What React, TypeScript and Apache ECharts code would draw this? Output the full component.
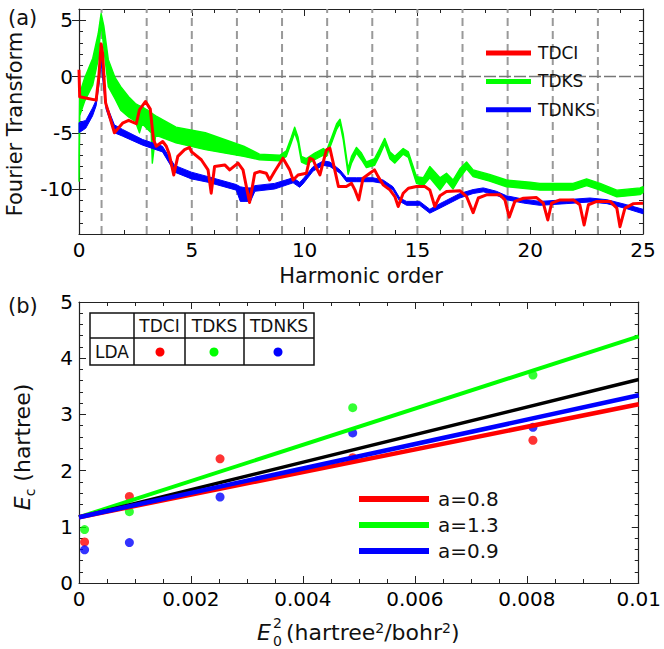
import React, { useEffect, useRef } from 'react';
import * as echarts from 'echarts';

const FONT = "'DejaVu Sans', sans-serif";
const RED = '#ff0000';
const GREEN = '#00ff00';
const BLUE = '#0000ff';

// ---------- Panel (a): spectra ----------
const HARMONIC_GUIDES = [1, 3, 5, 7, 9, 11, 13, 15, 17, 19, 21, 23];
const ZERO_LINE = [0];
const Y_MAJOR_A = [-10, -5, 0, 5];
const SPECTRUM_NAMES = ['TDCI', 'TDKS', 'TDNKS'];

// [harmonic, log amplitude]
const TDCI_SPECTRUM: number[][] = [
  [0, 0.6], [0.03, -1.8], [0.4, -1.95], [0.76, -2.1], [0.88, 0.0], [0.98, 2.9], [1.05, 2.0], [1.12, -0.5],
  [1.18, -2.35], [1.57, -5.0], [1.93, -4.15], [2.2, -3.9], [2.54, -4.2], [2.68, -2.96], [2.95, -2.22],
  [3.16, -2.9], [3.3, -5.6], [3.42, -6.2], [3.71, -5.78], [3.87, -6.2], [4.0, -6.9], [4.2, -8.75],
  [4.38, -7.1], [4.68, -6.5], [4.9, -6.3], [4.98, -6.67], [5.42, -7.4], [5.72, -8.3], [5.86, -10.37],
  [6.01, -8.0], [6.46, -7.86], [6.68, -8.3], [7.05, -7.7], [7.27, -8.3], [7.56, -11.2], [7.79, -8.6],
  [8.0, -8.45], [8.3, -8.6], [8.45, -9.2], [8.67, -8.45], [9.04, -7.26], [9.34, -8.3], [9.49, -9.2],
  [9.71, -8.75], [10.08, -8.6], [10.23, -7.26], [10.38, -7.4], [10.53, -8.15], [10.68, -8.75],
  [10.83, -7.56], [10.97, -6.52], [11.12, -6.37], [11.27, -7.7], [11.5, -9.78], [11.85, -9.78],
  [12.08, -9.5], [12.23, -10.08], [12.4, -10.97], [12.59, -9.04], [12.89, -8.6], [13.1, -8.3],
  [13.26, -8.9], [13.48, -9.63], [13.78, -10.08], [14.0, -10.67], [14.15, -11.56], [14.37, -10.38],
  [14.6, -9.93], [14.96, -9.78], [15.33, -9.78], [15.55, -10.08], [15.77, -11.56], [16.0, -10.6],
  [16.29, -10.23], [16.88, -10.15], [17.18, -10.67], [17.47, -12.1], [17.7, -10.8], [18.06, -10.52],
  [18.66, -10.52], [18.88, -10.97], [19.07, -12.5], [19.32, -11.1], [19.7, -10.82], [20.28, -10.76],
  [20.58, -11.26], [20.78, -12.75], [20.95, -11.26], [21.32, -10.97], [21.91, -10.97], [22.2, -11.4],
  [22.39, -13.2], [22.58, -11.4], [22.95, -11.1], [23.54, -11.1], [23.84, -11.7], [23.98, -13.35],
  [24.2, -11.7], [24.58, -11.3], [25.0, -11.26],
];

// [harmonic, lower edge, upper edge] of the noisy band
const TDKS_SPECTRUM: number[][] = [
  [0.0, -9.3, -7.0], [0.03, -3.5, -1.5], [0.25, -2.2, -0.14], [0.61, -0.74, 1.63], [0.85, 1.5, 3.8],
  [0.98, 4.8, 5.6], [1.1, 2.5, 4.5], [1.3, -0.9, 1.5], [1.6, -2.0, -0.1], [1.85, -3.0, -0.9],
  [2.2, -3.6, -1.8], [2.5, -4.0, -2.4], [2.68, -5.0, -2.6], [2.8, -4.2, -2.7], [3.2, -5.0, -3.2],
  [3.25, -7.7, -3.3], [3.4, -5.2, -3.5], [4.3, -5.9, -4.5], [5.6, -6.5, -5.0], [7.3, -7.1, -6.2],
  [8.0, -7.4, -6.9], [8.9, -7.5, -7.0], [9.19, -7.1, -6.6], [9.41, -5.9, -5.4], [9.56, -5.0, -4.5],
  [9.71, -5.9, -5.4], [9.86, -7.6, -7.1], [10.08, -7.8, -7.3], [10.45, -7.4, -6.8], [10.83, -7.0, -6.4],
  [10.97, -7.1, -6.6], [11.2, -5.9, -5.4], [11.42, -4.7, -4.2], [11.57, -4.2, -3.8], [11.71, -5.6, -5.1],
  [11.93, -8.7, -8.2], [12.08, -7.7, -7.1], [12.3, -6.8, -6.3], [12.52, -7.4, -6.8], [12.74, -8.1, -7.6],
  [13.1, -7.9, -7.3], [13.33, -7.0, -6.4], [13.55, -6.0, -5.5], [13.78, -7.3, -6.7], [14.0, -7.7, -7.1],
  [14.37, -6.9, -6.4], [14.6, -7.2, -6.7], [14.96, -9.5, -8.9], [15.26, -9.7, -9.0], [15.55, -9.0, -8.0],
  [16.0, -10.1, -9.0], [16.29, -9.3, -8.6], [16.58, -10.0, -9.2], [16.88, -9.0, -8.2], [17.18, -8.2, -7.6],
  [17.47, -8.9, -8.3], [18.2, -9.3, -8.7], [18.95, -9.8, -9.2], [20.0, -10.0, -9.4], [20.43, -10.1, -9.5],
  [21.46, -10.1, -9.5], [21.9, -10.1, -9.5], [22.5, -9.7, -9.1], [23.1, -10.1, -9.5], [23.84, -10.7, -10.1],
  [24.87, -10.5, -9.9], [25.0, -10.3, -9.8],
];

const TDNKS_SPECTRUM: number[][] = [
  [0.0, -5.0, -4.1], [0.3, -4.6, -3.9], [0.6, -3.5, -2.8], [0.76, -2.6, -2.1], [0.9, -0.5, 0.3],
  [0.98, 1.3, 1.8], [1.08, -0.8, 0.0], [1.2, -2.9, -2.4], [1.57, -5.0, -4.3], [1.93, -5.3, -4.7],
  [2.82, -6.1, -5.6], [3.7, -6.7, -6.2], [4.24, -8.5, -7.9], [4.98, -9.1, -8.5], [5.72, -9.4, -8.9],
  [6.97, -10.1, -9.6], [7.15, -11.1, -9.8], [7.4, -11.1, -9.9], [7.6, -11.1, -9.9], [7.8, -10.2, -9.7],
  [8.67, -10.0, -9.5], [9.49, -9.45, -9.0], [9.78, -9.85, -9.4], [9.93, -9.55, -9.1], [10.38, -8.4, -8.0],
  [10.83, -7.9, -7.5], [11.12, -8.0, -7.6], [11.57, -8.6, -8.3], [11.86, -9.35, -9.0], [12.3, -9.35, -9.0],
  [13.03, -9.35, -9.0], [13.48, -9.5, -9.2], [13.92, -10.1, -9.8], [14.22, -11.1, -10.8], [14.52, -11.45, -11.1],
  [15.1, -11.45, -11.1], [15.55, -12.15, -11.8], [16.0, -11.7, -11.3], [16.88, -10.8, -10.4],
  [17.47, -10.4, -10.05], [17.92, -10.25, -9.9], [18.5, -10.55, -10.2], [18.95, -10.95, -10.6],
  [19.7, -11.25, -10.9], [20.43, -11.45, -11.1], [21.6, -11.3, -10.95], [22.65, -11.15, -10.8],
  [23.4, -11.3, -10.95], [24.28, -11.75, -11.4], [25.0, -12.2, -11.8],
];

// ---------- Panel (b): correlation energy vs field^2 ----------
const FIELD_SQ = [0.0001, 0.0009, 0.00252, 0.00489, 0.00811];
const EC_TDCI = [0.73, 1.54, 2.21, 2.23, 2.54];
const EC_TDKS: (number | null)[] = [0.95, 1.27, null, 3.12, 3.7];
const EC_TDNKS = [0.59, 0.72, 1.53, 2.67, 2.77];
const FIT_X = [0, 0.01];
const FIT_A08 = [1.17, 3.18];
const FIT_A13 = [1.17, 4.39];
const FIT_A09 = [1.17, 3.34];
const FIT_REF = [1.17, 3.62];
const FIT_NAMES = ['a=0.8', 'a=1.3', 'a=0.9'];
const TABLE_ROW = 'LDA';

const pair = (xs: number[], ys: (number | null)[]) => xs.map((x, i) => [x, ys[i]]);

function frameAxes(gridIndex: number, kind: 'x' | 'y', opts: any) {
  const base = {
    gridIndex,
    type: 'value',
    axisLine: { show: true, onZero: false, lineStyle: { color: '#222', width: 1.2 } },
    axisTick: { show: true, inside: true, length: 7, lineStyle: { color: '#222', width: 1 } },
    minorTick: { show: true, splitNumber: opts.minorSplit || 5, length: 4, lineStyle: { color: '#222', width: 1 } },
    splitLine: { show: false },
    minorSplitLine: { show: false },
    min: opts.min,
    max: opts.max,
    interval: opts.interval,
  };
  const label = {
    show: true,
    color: '#000',
    fontSize: 20,
    fontFamily: FONT,
    margin: 6,
    formatter: opts.formatter,
  };
  return [
    { ...base, position: kind === 'x' ? 'bottom' : 'left', axisLabel: label },
    { ...base, position: kind === 'x' ? 'top' : 'right', axisLabel: { show: false } },
  ];
}

export default function App() {
  const ref = useRef<HTMLDivElement>(null);

  useEffect(() => {
    document.body.style.margin = '0';
    if (!ref.current) return;
    const chart = echarts.init(ref.current, undefined, { renderer: 'svg' });

    const bandSeries = (name: string, pts: number[][], color: string, z: number, stroke: number) => ({
      type: 'custom',
      name,
      xAxisIndex: 0,
      yAxisIndex: 0,
      z,
      silent: true,
      color,
      itemStyle: { color },
      data: [[pts[0][0], pts[0][1]]],
      renderItem: (_params: any, api: any) => {
        const poly: number[][] = [];
        for (const p of pts) poly.push(api.coord([p[0], p[2]]));
        for (let i = pts.length - 1; i >= 0; i--) poly.push(api.coord([pts[i][0], pts[i][1]]));
        return {
          type: 'polygon',
          shape: { points: poly },
          style: { fill: color, stroke: color, lineWidth: stroke, lineJoin: 'round' },
        };
      },
    });

    const guideSeries = HARMONIC_GUIDES.map((h) => ({
      type: 'line',
      xAxisIndex: 0,
      yAxisIndex: 0,
      silent: true,
      symbol: 'none',
      z: 1,
      data: [[h, -14], [h, 6]],
      lineStyle: { color: '#999', width: 2, type: [8, 5] },
    }));
    const zeroSeries = ZERO_LINE.map((v) => ({
      type: 'line',
      xAxisIndex: 0,
      yAxisIndex: 0,
      silent: true,
      symbol: 'none',
      z: 1,
      data: [[0, v], [25, v]],
      lineStyle: { color: '#777', width: 1.6, type: [12, 3] },
    }));

    const xA = frameAxes(0, 'x', { min: 0, max: 25, interval: 5, minorSplit: 5 });
    const xB = frameAxes(1, 'x', {
      min: 0, max: 0.01, interval: 0.002, minorSplit: 4,
      formatter: (v: number) => String(+v.toFixed(4)),
    });
    const yAbase = {
      type: 'value', gridIndex: 0, min: -14, max: 6, interval: 1,
      axisLine: { show: true, onZero: false, lineStyle: { color: '#222', width: 1.2 } },
      axisTick: { show: true, inside: true, length: 4, lineStyle: { color: '#222', width: 1 } },
      splitLine: { show: false },
    };
    const yAmajor = {
      type: 'value', gridIndex: 0, min: -14, max: 6,
      axisLine: { show: false },
      axisLabel: { show: false },
      axisTick: { show: true, inside: true, length: 7, customValues: Y_MAJOR_A, lineStyle: { color: '#222', width: 1 } },
      splitLine: { show: false },
    };
    const yB = frameAxes(1, 'y', { min: 0, max: 5, interval: 1, minorSplit: 5 });

    const option: any = {
      animation: false,
      textStyle: { fontFamily: FONT },
      grid: [
        { left: 79, width: 564, top: 9, height: 225 },
        { left: 79, width: 564, top: 302, height: 281 },
      ],
      xAxis: [...xA, ...xB],
      yAxis: [
        {
          ...yAbase, position: 'left',
          axisLabel: {
            show: true, color: '#000', fontSize: 20, fontFamily: FONT, margin: 6,
            customValues: Y_MAJOR_A,
            formatter: (v: number) => (Y_MAJOR_A.includes(v) ? String(v) : ''),
          },
        },
        { ...yAbase, position: 'right', axisLabel: { show: false } },
        ...yB,
        { ...yAmajor, position: 'left' },
        { ...yAmajor, position: 'right' },
      ],
      legend: [
        {
          data: SPECTRUM_NAMES.map((n) => ({ name: n, icon: 'rect' })),
          orient: 'vertical', left: 486, top: 43, padding: 0,
          itemWidth: 45, itemHeight: 5, itemGap: 8.4,
          selectedMode: false,
          textStyle: { fontSize: 17, lineHeight: 20, color: '#111', fontFamily: FONT, padding: [0, 0, 0, 2] },
        },
        {
          data: FIT_NAMES.map((n) => ({ name: n, icon: 'rect' })),
          orient: 'vertical', left: 359, top: 488, padding: 0,
          itemWidth: 70, itemHeight: 6, itemGap: 4,
          selectedMode: false,
          textStyle: { fontSize: 20, lineHeight: 22, color: '#111', fontFamily: FONT, padding: [0, 0, 0, 4] },
        },
      ],
      series: [
        ...guideSeries,
        ...zeroSeries,
        bandSeries('TDKS', TDKS_SPECTRUM, GREEN, 3, 1.4),
        bandSeries('TDNKS', TDNKS_SPECTRUM, BLUE, 4, 1.0),
        {
          type: 'line', name: 'TDCI', xAxisIndex: 0, yAxisIndex: 0, z: 5,
          color: RED, symbol: 'none', silent: true,
          data: TDCI_SPECTRUM,
          lineStyle: { color: RED, width: 3, join: 'round' },
        },
        // panel (b) points
        ...[
          ['TDCI LDA', EC_TDCI, RED],
          ['TDKS LDA', EC_TDKS, GREEN],
          ['TDNKS LDA', EC_TDNKS, BLUE],
        ].map(([n, ys, c]: any) => ({
          type: 'scatter', name: n, xAxisIndex: 2, yAxisIndex: 2, z: 2,
          symbol: 'circle', symbolSize: 9, silent: true,
          itemStyle: { color: c },
          data: pair(FIELD_SQ, ys).filter((p) => p[1] !== null),
        })),
        // panel (b) fit lines
        ...[
          ['a=1.3', FIT_A13, GREEN, 4],
          ['reference', FIT_REF, '#000', 3.5],
          ['a=0.8', FIT_A08, RED, 4.5],
          ['a=0.9', FIT_A09, BLUE, 4.5],
        ].map(([n, ys, c, w]: any) => ({
          type: 'line', name: n, xAxisIndex: 2, yAxisIndex: 2, z: 3,
          color: c, symbol: 'none', silent: true,
          data: pair(FIT_X, ys),
          lineStyle: { color: c, width: w },
        })),
      ],
      graphic: [
        { type: 'text', left: 8, top: 7, style: { text: '(a)', fontSize: 21, fontFamily: FONT, fill: '#111' } },
        { type: 'text', left: 8, top: 295, style: { text: '(b)', fontSize: 21, fontFamily: FONT, fill: '#111' } },
        {
          type: 'text', x: 15, y: 124, rotation: Math.PI / 2,
          style: { text: 'Fourier Transform', fontSize: 21, fontFamily: FONT, fill: '#111', align: 'center', verticalAlign: 'middle' },
        },
        {
          type: 'text', x: 361, y: 276,
          style: { text: 'Harmonic order', fontSize: 21, fontFamily: FONT, fill: '#111', align: 'center', verticalAlign: 'middle' },
        },
        {
          type: 'text', x: 22, y: 447, rotation: Math.PI / 2,
          style: {
            text: '{i|E}{s|c} (hartree)',
            fontSize: 22, fontFamily: FONT, fill: '#111', align: 'center', verticalAlign: 'middle',
            rich: {
              i: { fontSize: 22, fontStyle: 'italic', fontFamily: FONT, fill: '#111', lineHeight: 30 },
              s: { fontSize: 14, fontFamily: FONT, fill: '#111', verticalAlign: 'bottom', lineHeight: 14 },
            },
          },
        },
        // x title of panel (b): E_0^2 (hartree^2/bohr^2)
        {
          type: 'text', x: 271, y: 632,
          style: { text: 'E', fontSize: 22, fontStyle: 'italic', fontFamily: FONT, fill: '#111', align: 'right', verticalAlign: 'middle' },
        },
        {
          type: 'text', x: 273, y: 623,
          style: { text: '2', fontSize: 14, fontFamily: FONT, fill: '#111', align: 'left', verticalAlign: 'middle' },
        },
        {
          type: 'text', x: 273, y: 641,
          style: { text: '0', fontSize: 14, fontFamily: FONT, fill: '#111', align: 'left', verticalAlign: 'middle' },
        },
        {
          type: 'text', x: 286, y: 632,
          style: {
            text: '(hartree{s|2}/bohr{s|2})',
            fontSize: 22, fontFamily: FONT, fill: '#111', align: 'left', verticalAlign: 'middle',
            rich: {
              s: { fontSize: 14, fontFamily: FONT, fill: '#111', verticalAlign: 'top', lineHeight: 14 },
            },
          },
        },
        // table in panel (b)
        {
          type: 'group',
          children: [
            { type: 'rect', shape: { x: 90, y: 313, width: 224, height: 52 }, style: { fill: '#fff', stroke: '#111', lineWidth: 1.5 } },
            { type: 'line', shape: { x1: 90, y1: 338, x2: 314, y2: 338 }, style: { stroke: '#111', lineWidth: 1.5 } },
            { type: 'line', shape: { x1: 134, y1: 313, x2: 134, y2: 365 }, style: { stroke: '#111', lineWidth: 1.5 } },
            { type: 'line', shape: { x1: 185, y1: 313, x2: 185, y2: 365 }, style: { stroke: '#111', lineWidth: 1.5 } },
            { type: 'line', shape: { x1: 244, y1: 313, x2: 244, y2: 365 }, style: { stroke: '#111', lineWidth: 1.5 } },
            ...SPECTRUM_NAMES.map((n, i) => ({
              type: 'text', x: [159.5, 214.5, 279][i], y: 326,
              style: { text: n, fontSize: 17, fontFamily: FONT, fill: '#111', align: 'center', verticalAlign: 'middle' },
            })),
            {
              type: 'text', x: 112, y: 352,
              style: { text: TABLE_ROW, fontSize: 17, fontFamily: FONT, fill: '#111', align: 'center', verticalAlign: 'middle' },
            },
            ...[RED, GREEN, BLUE].map((c, i) => ({
              type: 'circle', shape: { cx: [160, 214, 278][i], cy: 352, r: 4.5 }, style: { fill: c },
            })),
          ],
        },
      ],
    };

    chart.setOption(option);
    return () => chart.dispose();
  }, []);

  return <div ref={ref} style={{ width: 664, height: 649 }} />;
}
